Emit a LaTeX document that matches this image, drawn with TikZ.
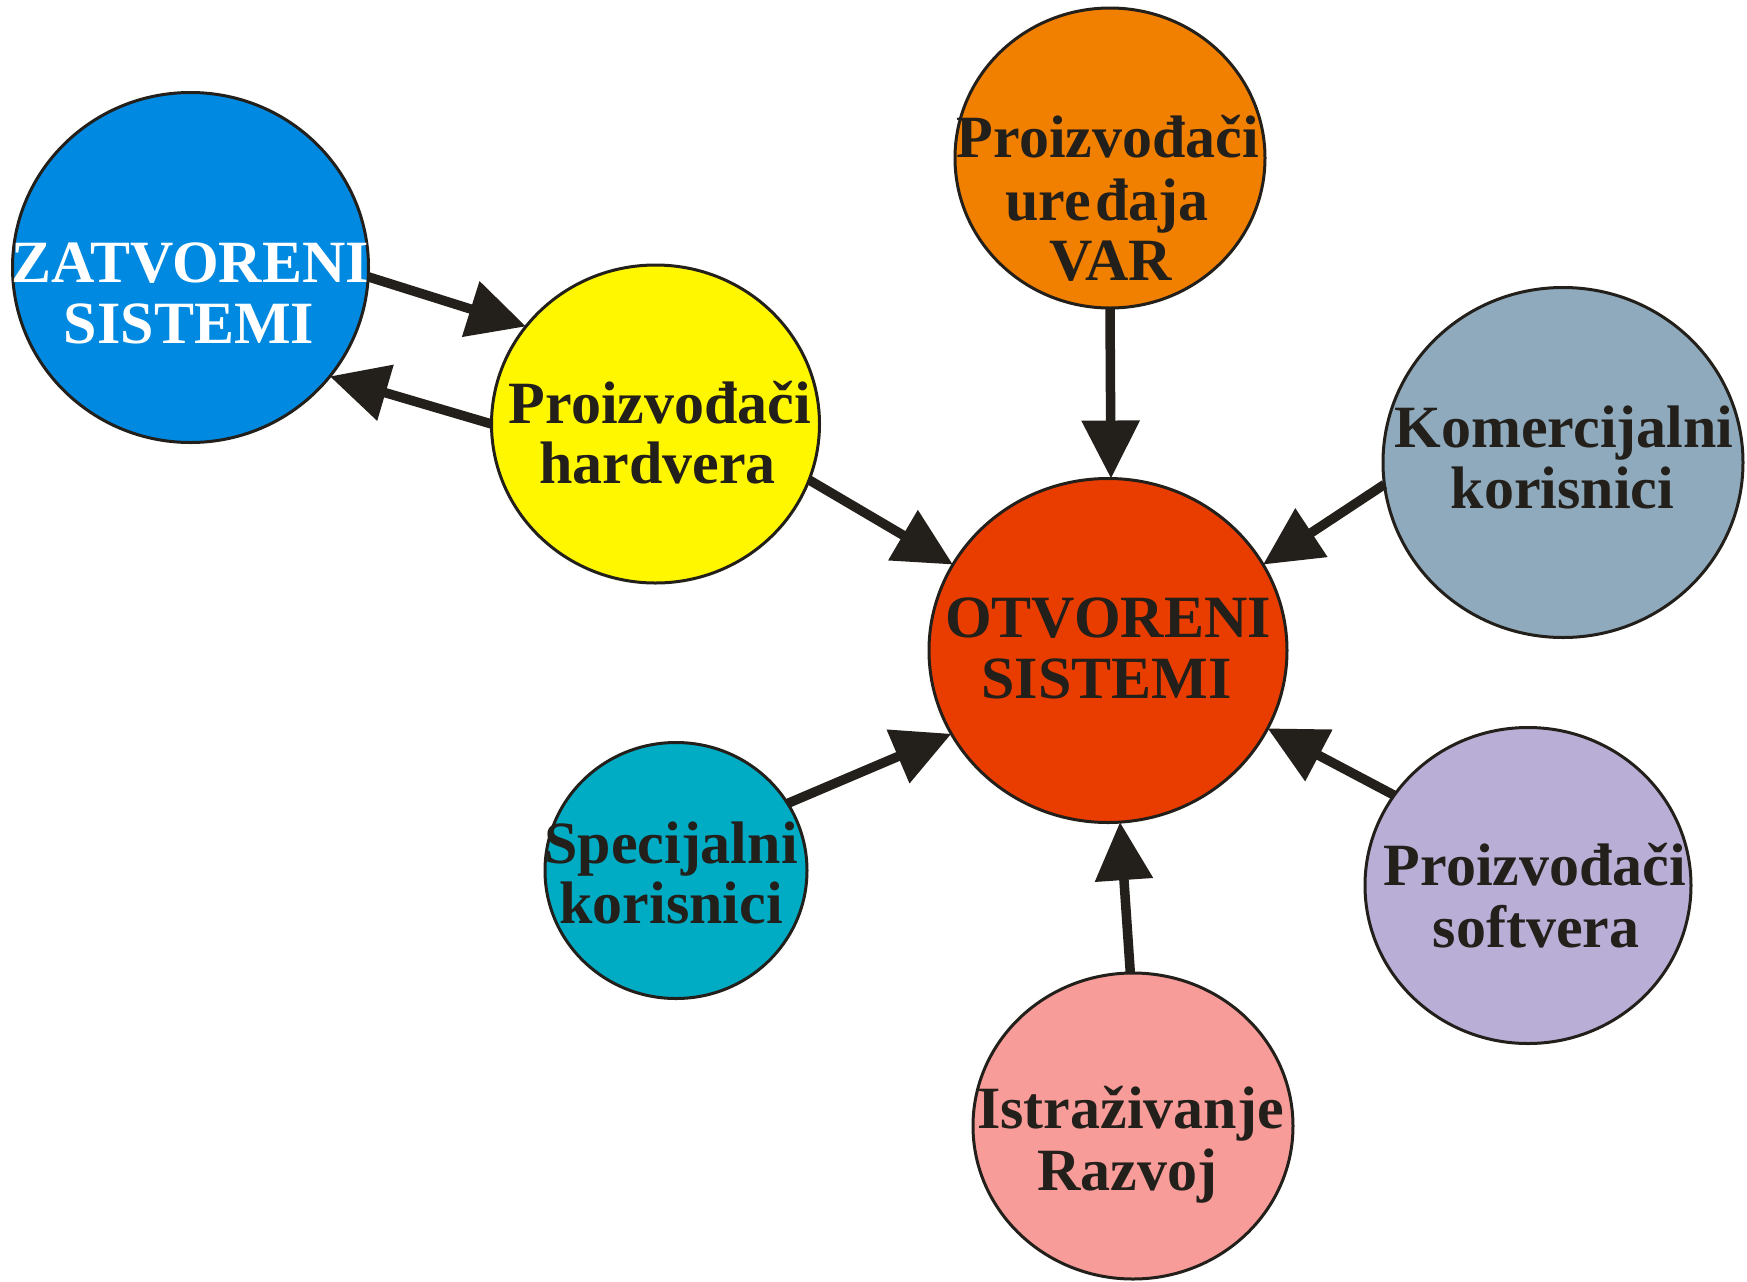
\documentclass[tikz,border=0pt]{standalone}
\usepackage{fontspec}
\setmainfont{Liberation Serif}
\usetikzlibrary{arrows.meta,shapes.geometric}
\definecolor{ink}{RGB}{35,31,26}
\definecolor{cZat}{RGB}{0,137,224}
\definecolor{cYel}{RGB}{255,247,0}
\definecolor{cVar}{RGB}{242,128,0}
\definecolor{cOtv}{RGB}{233,61,0}
\definecolor{cKom}{RGB}{143,170,189}
\definecolor{cSof}{RGB}{185,175,214}
\definecolor{cIst}{RGB}{247,156,153}
\definecolor{cSpe}{RGB}{0,171,196}
\begin{document}
\begin{tikzpicture}[x=0.5pt,y=-0.5pt,
  bub/.style={ellipse, draw=ink, line width=1.5pt, inner sep=0pt, outer sep=0pt},
  lbl/.style={anchor=base, inner sep=0pt, font=\fontsize{30}{30}\selectfont\bfseries, text=ink},
  con/.style={draw=ink, line width=4.75pt, -{Triangle[length=29pt,width=28pt]}}]
\useasboundingbox (0,0) rectangle (1747,1281);
% bubbles
\node[bub, fill=cZat, minimum width=178pt, minimum height=175pt] (zat) at (190.5,267.5) {};
\node[bub, fill=cYel, minimum width=164pt, minimum height=159pt] (hw) at (655.5,424) {};
\node[bub, fill=cVar, minimum width=155pt, minimum height=150pt] (var) at (1110,158) {};
\node[bub, fill=cOtv, minimum width=179pt, minimum height=172pt] (otv) at (1108,650.5) {};
\node[bub, fill=cKom, minimum width=180pt, minimum height=175pt] (kom) at (1563,462.5) {};
\node[bub, fill=cSof, minimum width=163pt, minimum height=158pt] (sof) at (1528,885.5) {};
\node[bub, fill=cIst, minimum width=160pt, minimum height=153pt] (ist) at (1133,1126) {};
\node[bub, fill=cSpe, minimum width=131pt, minimum height=128pt] (spe) at (676,870.5) {};
% labels
\node[lbl, text=white] (zat1) at (190,282) {ZATVORENI};
\node[lbl, text=white] (zat2) at (189,343) {SISTEMI};
\node[lbl] (hw1) at (660,423) {Proizvođači};
\node[lbl] (hw2) at (657.5,483) {hardvera};
\node[lbl] (var1) at (1108,157) {Proizvođači};
\node[lbl] (var2) at (1107,220) {ure\hspace{0.08em}đaja};
\node[lbl] (var3) at (1111,280) {VAR};
\node[lbl] (otv1) at (1108,637) {OTVORENI};
\node[lbl] (otv2) at (1106.5,698) {SISTEMI};
\node[lbl] (kom1) at (1564,447) {Komercijalni};
\node[lbl] (kom2) at (1562.5,508) {korisnici};
\node[lbl] (sof1) at (1535,885) {Proizvođači};
\node[lbl] (sof2) at (1536,947) {softvera};
\node[lbl] (ist1) at (1130.5,1128) {Istraživanje};
\node[lbl] (ist2) at (1127.5,1190) {Razvoj};
\node[lbl] (spe1) at (671,863) {Specijalni};
\node[lbl] (spe2) at (671,923) {korisnici};
% connectors
\draw[con] (zat.-3.4) -- (hw.143.8);
\draw[con] (hw.180) -- (zat.-38.4);
\draw[con] (hw.-20.2) -- (otv.151.7);
\draw[con] (var.-90) -- (otv.89.3);
\draw[con] (kom.187.2) -- (otv.29.7);
\draw[con] (sof.146.4) -- (otv.-26.7);
\draw[con] (ist.91.1) -- (otv.-86);
\draw[con] (spe.31.7) -- (otv.-152.7);
\end{tikzpicture}
\end{document}
